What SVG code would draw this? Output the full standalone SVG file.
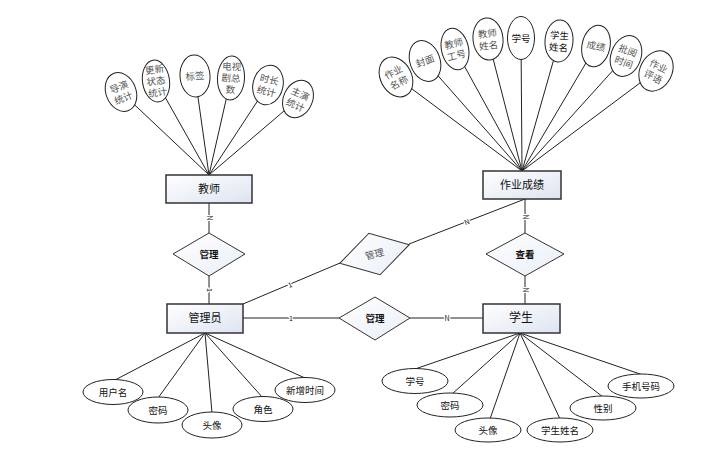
<svg xmlns="http://www.w3.org/2000/svg" width="714" height="462" viewBox="0 0 714 462">
<defs>
<linearGradient id="rg" x1="0" y1="0" x2="1" y2="1">
<stop offset="0" stop-color="#ffffff"/>
<stop offset="1" stop-color="#dde4f0"/>
</linearGradient>
<linearGradient id="dg" x1="0" y1="0" x2="1" y2="1">
<stop offset="0" stop-color="#ffffff"/>
<stop offset="1" stop-color="#e9eef6"/>
</linearGradient>
<style>
.ln{stroke:#222;stroke-width:1;fill:none}
.ent{fill:url(#rg);stroke:#333;stroke-width:1.5}
.rel{fill:url(#dg);stroke:#333;stroke-width:1}
.att{fill:#fff;stroke:#222;stroke-width:1}
text{font-family:"Noto Sans CJK SC","Liberation Sans",sans-serif;text-anchor:middle}
.et{font-size:11px;fill:#111}
.rt{font-size:9.5px;fill:#111;font-weight:bold}
.st{font-size:9.5px;fill:#555}
.bt{font-size:9.5px;fill:#111}
.lb{font-size:7px;fill:#111;stroke:#fff;stroke-width:2.5;paint-order:stroke}
</style>
</defs>
<rect width="714" height="462" fill="#fff"/>
<g id="connectors">
<!-- teacher attributes -->
<line class="ln" x1="121" y1="92" x2="209" y2="175"/>
<line class="ln" x1="156" y1="81" x2="209" y2="175"/>
<line class="ln" x1="195" y1="76" x2="209" y2="175"/>
<line class="ln" x1="231" y1="78" x2="209" y2="175"/>
<line class="ln" x1="268" y1="85" x2="209" y2="175"/>
<line class="ln" x1="298" y1="99" x2="209" y2="175"/>
<!-- homework attributes -->
<line class="ln" x1="396" y1="77" x2="522" y2="171"/>
<line class="ln" x1="425" y1="61" x2="522" y2="171"/>
<line class="ln" x1="455" y1="49" x2="522" y2="171"/>
<line class="ln" x1="488" y1="39" x2="522" y2="171"/>
<line class="ln" x1="521" y1="38" x2="522" y2="171"/>
<line class="ln" x1="559" y1="41" x2="522" y2="171"/>
<line class="ln" x1="596" y1="46" x2="522" y2="171"/>
<line class="ln" x1="626" y1="56" x2="522" y2="171"/>
<line class="ln" x1="656" y1="71" x2="522" y2="171"/>
<!-- admin attributes -->
<line class="ln" x1="205" y1="333" x2="115" y2="380"/>
<line class="ln" x1="205" y1="333" x2="158" y2="398"/>
<line class="ln" x1="205" y1="333" x2="212" y2="413"/>
<line class="ln" x1="205" y1="333" x2="263" y2="398"/>
<line class="ln" x1="205" y1="333" x2="305" y2="378"/>
<!-- student attributes -->
<line class="ln" x1="520" y1="333" x2="415" y2="369"/>
<line class="ln" x1="520" y1="333" x2="452" y2="394"/>
<line class="ln" x1="520" y1="333" x2="490" y2="419"/>
<line class="ln" x1="520" y1="333" x2="560" y2="419"/>
<line class="ln" x1="520" y1="333" x2="603" y2="397"/>
<line class="ln" x1="520" y1="333" x2="643" y2="375"/>
<!-- relationships -->
<line class="ln" x1="209" y1="203" x2="209" y2="233"/>
<line class="ln" x1="209" y1="276" x2="209" y2="304"/>
<line class="ln" x1="243" y1="318" x2="339" y2="318"/>
<line class="ln" x1="410" y1="318" x2="483" y2="318"/>
<line class="ln" x1="243" y1="304" x2="340" y2="263"/>
<line class="ln" x1="409" y1="244" x2="525" y2="199"/>
<line class="ln" x1="525" y1="199" x2="525" y2="233"/>
<line class="ln" x1="525" y1="276" x2="525" y2="304"/>
<text class="lb" transform="translate(209,218) rotate(90)" y="2.5">N</text>
<text class="lb" transform="translate(209,290) rotate(90)" y="2.5">1</text>
<text class="lb" x="291" y="321">1</text>
<text class="lb" x="447" y="321">N</text>
<text class="lb" transform="translate(290,285) rotate(-23)" y="2.5">1</text>
<text class="lb" transform="translate(467,222) rotate(-21)" y="2.5">N</text>
<text class="lb" transform="translate(525,217) rotate(90)" y="2.5">N</text>
<text class="lb" transform="translate(525,290) rotate(90)" y="2.5">N</text>
</g>
<g id="teacher"><rect class="ent" x="166" y="175" width="86" height="28"/><text class="et" x="209" y="193">教师</text></g>
<g id="admin"><rect class="ent" x="167" y="304" width="76" height="29"/><text class="et" x="205" y="322">管理员</text></g>
<g id="homework"><rect class="ent" x="483" y="171" width="78" height="28"/><text class="et" x="522" y="189">作业成绩</text></g>
<g id="student"><rect class="ent" x="483" y="304" width="77" height="29"/><text class="et" x="521" y="322" style="font-size:12px">学生</text></g>
<g id="rel-manage1"><polygon class="rel" points="173,254 209,233 245,254 209,276"/><text class="rt" x="209" y="258">管理</text></g>
<g id="rel-manage2"><polygon class="rel" points="339,318 375,297 410,318 375,340"/><text class="rt" x="375" y="322">管理</text></g>
<g id="rel-manage3" transform="translate(374.5,254) rotate(-15)"><polygon class="rel" points="-36,0 0,-21.5 36,0 0,21.5"/><text class="st" x="0" y="3.5">管理</text></g>
<g id="rel-view"><polygon class="rel" points="486,254 525,233 564,254 525,276"/><text class="rt" x="525" y="258">查看</text></g>
<!-- teacher attributes -->
<g id="t-a1" transform="translate(121,92) rotate(-22)"><ellipse class="att" rx="15" ry="20"/><text class="st"><tspan x="0" y="-2">导演</tspan><tspan x="0" y="10">统计</tspan></text></g>
<g id="t-a2" transform="translate(156,81) rotate(-8)"><ellipse class="att" rx="13.5" ry="21"/><text class="st"><tspan x="0" y="-8">更新</tspan><tspan x="0" y="3.5">状态</tspan><tspan x="0" y="15">统计</tspan></text></g>
<g id="t-a3" transform="translate(195,76) rotate(-4)"><ellipse class="att" rx="15" ry="21"/><text class="st" x="0" y="3.5">标签</text></g>
<g id="t-a4" transform="translate(231,78) rotate(3)"><ellipse class="att" rx="13.5" ry="22"/><text class="st"><tspan x="0" y="-8">电视</tspan><tspan x="0" y="3.5">剧总</tspan><tspan x="0" y="15">数</tspan></text></g>
<g id="t-a5" transform="translate(268,85) rotate(14)"><ellipse class="att" rx="15" ry="20"/><text class="st"><tspan x="0" y="-2">时长</tspan><tspan x="0" y="10">统计</tspan></text></g>
<g id="t-a6" transform="translate(298,99) rotate(24)"><ellipse class="att" rx="14.5" ry="19.5"/><text class="st"><tspan x="0" y="-2">主演</tspan><tspan x="0" y="10">统计</tspan></text></g>
<!-- homework attributes -->
<g id="h-a1" transform="translate(396,77) rotate(-28)"><ellipse class="att" rx="15.5" ry="21"/><text class="st"><tspan x="0" y="-2">作业</tspan><tspan x="0" y="10">名称</tspan></text></g>
<g id="h-a2" transform="translate(425,61) rotate(-20)"><ellipse class="att" rx="15" ry="21"/><text class="st" x="0" y="3.5">封面</text></g>
<g id="h-a3" transform="translate(455,49) rotate(-13)"><ellipse class="att" rx="13.5" ry="21"/><text class="st"><tspan x="0" y="-2">教师</tspan><tspan x="0" y="10">工号</tspan></text></g>
<g id="h-a4" transform="translate(488,39) rotate(-6)"><ellipse class="att" rx="15" ry="21"/><text class="st"><tspan x="0" y="-2">教师</tspan><tspan x="0" y="10">姓名</tspan></text></g>
<g id="h-a5" transform="translate(521,38)"><ellipse class="att" rx="13.5" ry="21.5"/><text class="bt" x="0" y="3.5">学号</text></g>
<g id="h-a6" transform="translate(559,41) rotate(4)"><ellipse class="att" rx="14" ry="21"/><text class="bt"><tspan x="0" y="-2">学生</tspan><tspan x="0" y="10">姓名</tspan></text></g>
<g id="h-a7" transform="translate(596,46) rotate(12)"><ellipse class="att" rx="14" ry="21"/><text class="st" x="0" y="3.5">成绩</text></g>
<g id="h-a8" transform="translate(626,56) rotate(20)"><ellipse class="att" rx="15" ry="21"/><text class="st"><tspan x="0" y="-2">批阅</tspan><tspan x="0" y="10">时间</tspan></text></g>
<g id="h-a9" transform="translate(656,71) rotate(27)"><ellipse class="att" rx="16" ry="21"/><text class="st"><tspan x="0" y="-2">作业</tspan><tspan x="0" y="10">评语</tspan></text></g>
<!-- admin attributes -->
<g id="m-a1"><ellipse class="att" cx="113" cy="392" rx="30" ry="12.5"/><text class="bt" x="113" y="395.5">用户名</text></g>
<g id="m-a2"><ellipse class="att" cx="158" cy="410" rx="30" ry="13"/><text class="bt" x="158" y="413.5">密码</text></g>
<g id="m-a3"><ellipse class="att" cx="212" cy="425" rx="30" ry="13"/><text class="bt" x="212" y="428.5">头像</text></g>
<g id="m-a4"><ellipse class="att" cx="263" cy="409" rx="30" ry="12.5"/><text class="bt" x="263" y="412.5">角色</text></g>
<g id="m-a5"><ellipse class="att" cx="305" cy="390" rx="30" ry="12.5"/><text class="bt" x="305" y="393.5">新增时间</text></g>
<!-- student attributes -->
<g id="s-a1"><ellipse class="att" cx="415" cy="381" rx="33" ry="12.5"/><text class="bt" x="415" y="384.5">学号</text></g>
<g id="s-a2"><ellipse class="att" cx="450" cy="405" rx="33" ry="12"/><text class="bt" x="450" y="408.5">密码</text></g>
<g id="s-a3"><ellipse class="att" cx="488" cy="430" rx="33" ry="12"/><text class="bt" x="488" y="433.5">头像</text></g>
<g id="s-a4"><ellipse class="att" cx="560" cy="430" rx="33" ry="12"/><text class="bt" x="560" y="433.5">学生姓名</text></g>
<g id="s-a5"><ellipse class="att" cx="603" cy="408" rx="33" ry="12"/><text class="bt" x="603" y="411.5">性别</text></g>
<g id="s-a6"><ellipse class="att" cx="641" cy="386" rx="33" ry="12"/><text class="bt" x="641" y="389.5">手机号码</text></g>
</svg>
